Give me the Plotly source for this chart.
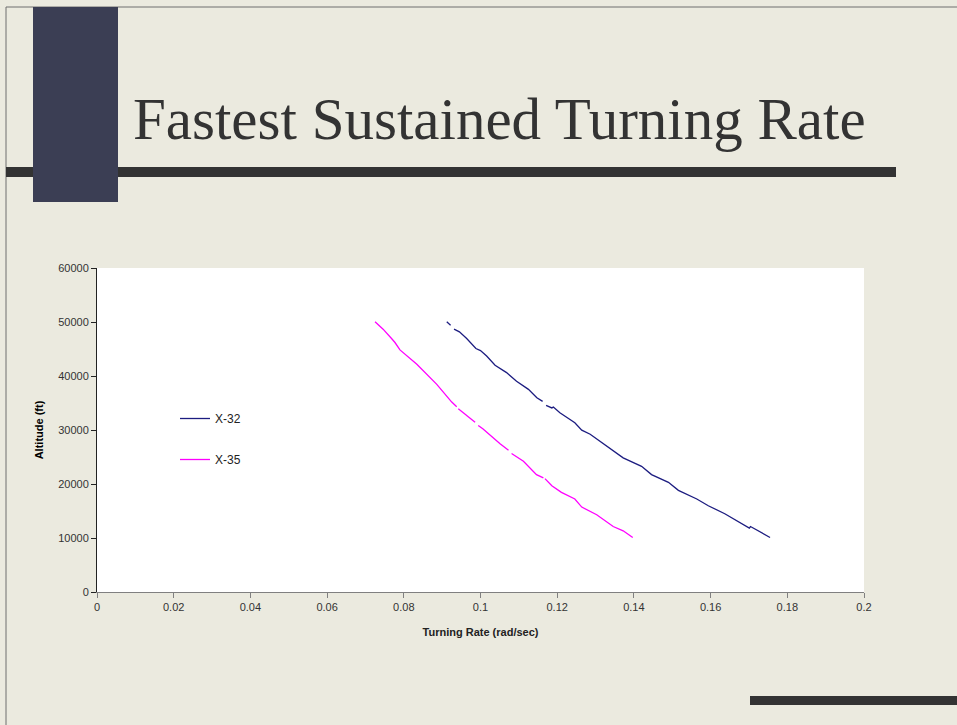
import plotly.graph_objects as go

# ---------------- data ----------------
x32_rate = [0.0912, 0.0922, None, 0.0931, 0.0945, 0.0964, 0.0988, 0.1000, 0.1016, 0.1038,
            0.1068, 0.1094, 0.1125, 0.1147, 0.1162, None, 0.1171, 0.1186, 0.1190, 0.1207,
            0.1246, 0.1264, 0.1286, 0.1312, 0.1372, 0.1420, 0.1446, 0.1490, 0.1516,
            0.1564, 0.1594, 0.1637, 0.1677, 0.1701, 0.1704, 0.1755]
x32_alt = [50030, 49410, None, 48670, 48170, 46940, 45090, 44710, 43710, 41980,
           40630, 39010, 37530, 35980, 35300, None, 34550, 34090, 34240, 33200,
           31340, 29970, 29220, 27920, 24840, 23280, 21740, 20310, 18830,
           17220, 15980, 14490, 12760, 11830, 12130, 10090]

x35_rate = [0.0725, 0.0746, 0.0768, 0.0777, 0.0790, 0.0834, 0.0886, 0.0925, 0.0938, None,
            0.0942, 0.0964, 0.0986, None, 0.0994, 0.1006, 0.1051, 0.1073, None, 0.1081,
            0.1112, 0.1146, 0.1164, None, 0.1168, 0.1186, 0.1211, 0.1246, 0.1264,
            0.1303, 0.1346, 0.1372, 0.1397]
x35_alt = [50030, 48670, 46940, 46200, 44830, 42170, 38460, 35170, 34310, None,
           33940, 32700, 31450, None, 30840, 30220, 27440, 26250, None, 25640,
           24210, 21740, 21120, None, 20990, 19690, 18450, 17220, 15730,
           14300, 12130, 11330, 10090]

x_tickvals = [0, 0.02, 0.04, 0.06, 0.08, 0.1, 0.12, 0.14, 0.16, 0.18, 0.2]
x_ticktext = ["0", "0.02", "0.04", "0.06", "0.08", "0.1", "0.12", "0.14", "0.16", "0.18", "0.2"]
y_tickvals = [0, 10000, 20000, 30000, 40000, 50000, 60000]
y_ticktext = ["0", "10000", "20000", "30000", "40000", "50000", "60000"]

# ---------------- layout geometry (pixels) ----------------
W, H = 957, 725
L, R, T, B = 97, 864, 268, 592
PW, PH = R - L, B - T


def px(x):
    return (x - L) / PW


def py(y):
    return (B - y) / PH


fig = go.Figure()
fig.add_trace(go.Scatter(x=x32_rate, y=x32_alt, mode="lines", name="X-32",
                         legendgroup="a",
                         line=dict(color="#1c1c80", width=1.3)))
fig.add_trace(go.Scatter(x=x35_rate, y=x35_alt, mode="lines", name="X-35",
                         legendgroup="b",
                         line=dict(color="#ff00ff", width=1.3)))

bg = "#ebeadf"
shapes = [
    # slide border
    dict(type="rect", xref="paper", yref="paper", x0=px(6), x1=px(960), y0=py(7), y1=py(730),
         line=dict(color="#6e6e6e", width=1), fillcolor="rgba(0,0,0,0)", layer="below"),
    # horizontal title bar
    dict(type="rect", xref="paper", yref="paper", x0=px(6), x1=px(896), y0=py(167), y1=py(177),
         line=dict(width=0), fillcolor="#333333", layer="below"),
    # dark square
    dict(type="rect", xref="paper", yref="paper", x0=px(33), x1=px(118), y0=py(7), y1=py(202),
         line=dict(width=0), fillcolor="#3b3e54", layer="below"),
    # bottom bar
    dict(type="rect", xref="paper", yref="paper", x0=px(750), x1=px(960), y0=py(696), y1=py(705),
         line=dict(width=0), fillcolor="#333333", layer="below"),
]

annotations = [
    dict(text="Fastest Sustained Turning Rate", xref="paper", yref="paper",
         x=px(131), y=py(119), xanchor="left", yanchor="middle", showarrow=False,
         font=dict(family="Liberation Serif, Times New Roman, serif", size=59, color="#333333")),
]

fig.update_layout(
    width=W, height=H,
    margin=dict(l=L, r=W - R, t=T, b=H - B, pad=0),
    paper_bgcolor=bg, plot_bgcolor="white",
    font=dict(family="Liberation Sans, Arial, sans-serif", size=11, color="#333333"),
    shapes=shapes, annotations=annotations,
    showlegend=True,
    legend=dict(x=px(175), y=py(404), xanchor="left", yanchor="top",
                bgcolor="rgba(0,0,0,0)", font=dict(size=12, color="#222222"),
                tracegroupgap=22, itemwidth=30),
    xaxis=dict(range=[0, 0.2], tickvals=x_tickvals, ticktext=x_ticktext,
               showgrid=False, zeroline=False, showline=True, linecolor="#808080", linewidth=1,
               ticks="outside", ticklen=5, tickcolor="#808080",
               title=dict(text="<b>Turning Rate (rad/sec)</b>", font=dict(size=11, color="#222222"),
                          standoff=16)),
    yaxis=dict(range=[0, 60000], tickvals=y_tickvals, ticktext=y_ticktext,
               showgrid=False, zeroline=False, showline=True, linecolor="#222222", linewidth=1,
               ticks="outside", ticklen=5, tickcolor="#222222",
               title=dict(text="<b>Altitude (ft)</b>", font=dict(size=11, color="#000000"),
                          standoff=12)),
)

fig.write_html("out.html")
